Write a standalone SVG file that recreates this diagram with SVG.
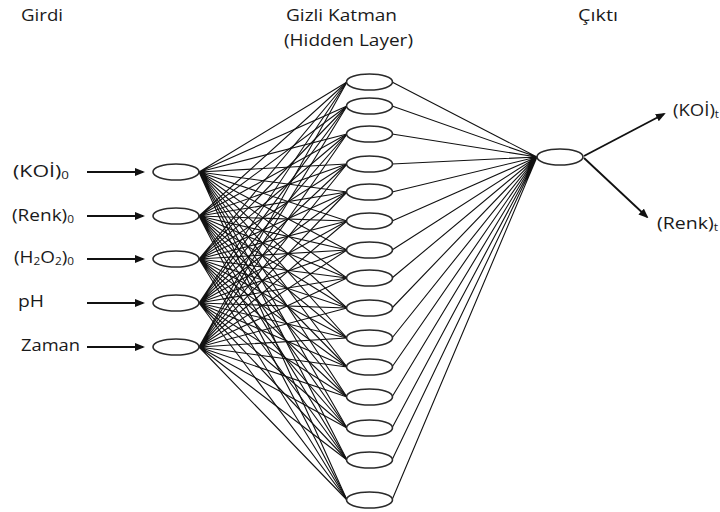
<svg xmlns="http://www.w3.org/2000/svg" width="720" height="512" viewBox="0 0 720 512">
<style>
.t{font-family:"Open Sans","Liberation Sans",sans-serif;font-size:16px;fill:#1a1a1a}
.s{font-size:10px}
.n{fill:#fff;stroke:#2a2a2a;stroke-width:1.6}
.c{stroke:#111;stroke-width:1.1;fill:none}
.a{stroke:#111;stroke-width:1.8;fill:none;marker-end:url(#ah)}
</style>
<defs>
<marker id="ah" markerWidth="10" markerHeight="8" refX="8" refY="4" orient="auto" markerUnits="userSpaceOnUse"><path d="M0,0 L10,4 L0,8 z" fill="#111"/></marker>
</defs>
<rect width="720" height="512" fill="#fff"/>
<g id="headers">
<text class="t" x="21" y="21" textLength="42" lengthAdjust="spacingAndGlyphs">Girdi</text>
<text class="t" x="286" y="21" textLength="111" lengthAdjust="spacingAndGlyphs">Gizli Katman</text>
<text class="t" x="284" y="46" textLength="129" lengthAdjust="spacingAndGlyphs">(Hidden Layer)</text>
<text class="t" x="578" y="21" textLength="40" lengthAdjust="spacingAndGlyphs">Çıktı</text>
</g>
<g id="connectors">
<path class="c" d="M199 172L347 82M199 172L347 106M199 172L347 134M199 172L347 164M199 172L347 192M199 172L347 221M199 172L347 250M199 172L347 278M199 172L347 308M199 172L347 338M199 172L347 367M199 172L347 397M199 172L347 428M199 172L347 460M199 172L347 500"/>
<path class="c" d="M199 216L347 82M199 216L347 106M199 216L347 134M199 216L347 164M199 216L347 192M199 216L347 221M199 216L347 250M199 216L347 278M199 216L347 308M199 216L347 338M199 216L347 367M199 216L347 397M199 216L347 428M199 216L347 460M199 216L347 500"/>
<path class="c" d="M199 259L347 82M199 259L347 106M199 259L347 134M199 259L347 164M199 259L347 192M199 259L347 221M199 259L347 250M199 259L347 278M199 259L347 308M199 259L347 338M199 259L347 367M199 259L347 397M199 259L347 428M199 259L347 460M199 259L347 500"/>
<path class="c" d="M199 303L347 82M199 303L347 106M199 303L347 134M199 303L347 164M199 303L347 192M199 303L347 221M199 303L347 250M199 303L347 278M199 303L347 308M199 303L347 338M199 303L347 367M199 303L347 397M199 303L347 428M199 303L347 460M199 303L347 500"/>
<path class="c" d="M199 347L347 82M199 347L347 106M199 347L347 134M199 347L347 164M199 347L347 192M199 347L347 221M199 347L347 250M199 347L347 278M199 347L347 308M199 347L347 338M199 347L347 367M199 347L347 397M199 347L347 428M199 347L347 460M199 347L347 500"/>
<path class="c" d="M392 82L537 157M392 106L537 157M392 134L537 157M392 164L537 157M392 192L537 157M392 221L537 157M392 250L537 157M392 278L537 157M392 308L537 157M392 338L537 157M392 367L537 157M392 397L537 157M392 428L537 157M392 460L537 157M392 500L537 157"/>
<line class="a" x1="87" y1="172" x2="143" y2="172"/>
<line class="a" x1="87" y1="216" x2="143" y2="216"/>
<line class="a" x1="87" y1="259" x2="143" y2="259"/>
<line class="a" x1="87" y1="303" x2="143" y2="303"/>
<line class="a" x1="87" y1="347" x2="143" y2="347"/>
<line class="a" x1="584" y1="156" x2="664" y2="114"/>
<line class="a" x1="584" y1="158" x2="647" y2="217"/>
</g>
<g id="input-labels">
<text class="t" x="13" y="177" textLength="56" lengthAdjust="spacingAndGlyphs">(KOİ)<tspan class="s" dy="2">0</tspan></text>
<text class="t" x="12" y="221" textLength="62" lengthAdjust="spacingAndGlyphs">(Renk)<tspan class="s" dy="2">0</tspan></text>
<text class="t" x="14" y="263" textLength="60" lengthAdjust="spacingAndGlyphs">(H<tspan class="s" dy="2">2</tspan><tspan dy="-2">O</tspan><tspan class="s" dy="2">2</tspan><tspan dy="-2">)</tspan><tspan class="s" dy="2">0</tspan></text>
<text class="t" x="18" y="307" textLength="26" lengthAdjust="spacingAndGlyphs">pH</text>
<text class="t" x="21" y="351" textLength="59" lengthAdjust="spacingAndGlyphs">Zaman</text>
</g>
<g id="input-nodes">
<ellipse id="in1" class="n" cx="176" cy="172" rx="23" ry="8"/>
<ellipse id="in2" class="n" cx="176" cy="216" rx="23" ry="8"/>
<ellipse id="in3" class="n" cx="176" cy="259" rx="23" ry="8"/>
<ellipse id="in4" class="n" cx="176" cy="303" rx="23" ry="8"/>
<ellipse id="in5" class="n" cx="176" cy="347" rx="23" ry="8"/>
</g>
<g id="hidden-nodes">
<ellipse id="h1" class="n" cx="369.5" cy="82" rx="23" ry="8"/>
<ellipse id="h2" class="n" cx="369.5" cy="106" rx="23" ry="8"/>
<ellipse id="h3" class="n" cx="369.5" cy="134" rx="23" ry="8"/>
<ellipse id="h4" class="n" cx="369.5" cy="164" rx="23" ry="8"/>
<ellipse id="h5" class="n" cx="369.5" cy="192" rx="23" ry="8"/>
<ellipse id="h6" class="n" cx="369.5" cy="221" rx="23" ry="8"/>
<ellipse id="h7" class="n" cx="369.5" cy="250" rx="23" ry="8"/>
<ellipse id="h8" class="n" cx="369.5" cy="278" rx="23" ry="8"/>
<ellipse id="h9" class="n" cx="369.5" cy="308" rx="23" ry="8"/>
<ellipse id="h10" class="n" cx="369.5" cy="338" rx="23" ry="8"/>
<ellipse id="h11" class="n" cx="369.5" cy="367" rx="23" ry="8"/>
<ellipse id="h12" class="n" cx="369.5" cy="397" rx="23" ry="8"/>
<ellipse id="h13" class="n" cx="369.5" cy="428" rx="23" ry="8"/>
<ellipse id="h14" class="n" cx="369.5" cy="460" rx="23" ry="8"/>
<ellipse id="h15" class="n" cx="369.5" cy="500" rx="23" ry="8"/>
</g>
<g id="output-node">
<ellipse id="out" class="n" cx="560" cy="157" rx="23" ry="8"/>
</g>
<g id="output-labels">
<text class="t" x="673" y="116" textLength="46" lengthAdjust="spacingAndGlyphs">(KOİ)<tspan class="s" dy="2">t</tspan></text>
<text class="t" x="657" y="229" textLength="61" lengthAdjust="spacingAndGlyphs">(Renk)<tspan class="s" dy="2">t</tspan></text>
</g>
</svg>
